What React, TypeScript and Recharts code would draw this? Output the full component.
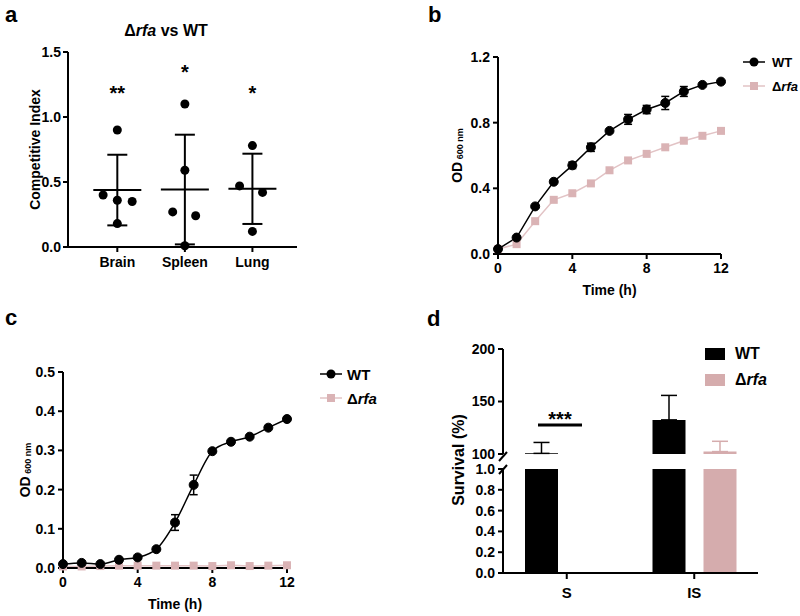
import React from 'react';
import {
  ScatterChart,
  Scatter,
  LineChart,
  Line,
  BarChart,
  Bar,
  XAxis,
  YAxis,
  ErrorBar,
  Legend
} from 'recharts';

const FONT = '"Liberation Sans", Arial, Helvetica, sans-serif';
const BLACK = '#000000';
const PINK_MARK = '#dab3b5';
const PINK_LINE = '#e2c3c5';
const PINK_BAR = '#d5acad';

// a: competitive index (Δrfa vs WT)
const ORGANS = ['Brain', 'Spleen', 'Lung'];
const BRAIN_CI = [0.9, 0.4, 0.36, 0.35, 0.18];
const BRAIN_JITTER = [0, -0.21, 0, 0.22, 0];
const SPLEEN_CI = [1.1, 0.59, 0.27, 0.24, 0.01];
const SPLEEN_JITTER = [0, 0, -0.18, 0.16, 0];
const LUNG_CI = [0.78, 0.47, 0.42, 0.12];
const LUNG_JITTER = [0, -0.19, 0.15, 0];
const CI_SIG = ['**', '*', '*'];
const CI_SIG_Y = [1.215, 1.375, 1.215];

// b: growth in rich medium
const TIME = [0, 1, 2, 3, 4, 5, 6, 7, 8, 9, 10, 11, 12];
const B_WT = [0.03, 0.1, 0.29, 0.44, 0.54, 0.65, 0.75, 0.82, 0.88, 0.92, 0.99, 1.03, 1.05];
const B_WT_SD = [0, 0, 0, 0, 0.02, 0.025, 0, 0.03, 0.025, 0.04, 0.03, 0, 0];
const B_RFA = [0.03, 0.06, 0.2, 0.33, 0.37, 0.43, 0.51, 0.57, 0.61, 0.65, 0.69, 0.72, 0.75];

// c: growth in serum
const C_WT = [0.01, 0.013, 0.01, 0.021, 0.027, 0.048, 0.116, 0.212, 0.298, 0.322, 0.335, 0.358, 0.38];
const C_WT_SD = [0, 0, 0, 0, 0, 0, 0.02, 0.025, 0, 0, 0, 0, 0];
const C_RFA = [0.004, 0.004, 0.005, 0.006, 0.006, 0.006, 0.006, 0.006, 0.005, 0.007, 0.005, 0.006, 0.007];

// d: survival
const SURV_GROUPS = ['S', 'IS'];
const SURV_WT = [100.6, 132.5];
const SURV_WT_ERR = [10.4, 23.3];
const SURV_RFA = [0.003, 102.3];
const SURV_RFA_ERR = [0, 9.8];

const ciPoints = [
  ...BRAIN_CI.map((y, i) => ({ x: 1 + BRAIN_JITTER[i], y })),
  ...SPLEEN_CI.map((y, i) => ({ x: 2 + SPLEEN_JITTER[i], y })),
  ...LUNG_CI.map((y, i) => ({ x: 3 + LUNG_JITTER[i], y }))
];

const stats = (vals: number[]) => {
  const m = vals.reduce((s, v) => s + v, 0) / vals.length;
  const sd = Math.sqrt(vals.reduce((s, v) => s + (v - m) * (v - m), 0) / (vals.length - 1));
  return { m, sd };
};

const ciStats = [BRAIN_CI, SPLEEN_CI, LUNG_CI].map((vals, i) => {
  const { m, sd } = stats(vals);
  return { x: i + 1, y: m, sd };
});

const ciSig = CI_SIG.map((label, i) => ({ x: i + 1, y: CI_SIG_Y[i], label }));

const growthB = TIME.map((t, i) => ({ t, wt: B_WT[i], wtSd: B_WT_SD[i], rfa: B_RFA[i] }));
const growthC = TIME.map((t, i) => ({ t, wt: C_WT[i], wtSd: C_WT_SD[i], rfa: C_RFA[i] }));

const survData = SURV_GROUPS.map((group, i) => ({
  group,
  wt: SURV_WT[i],
  wtErr: [0, SURV_WT_ERR[i]],
  rfa: SURV_RFA[i],
  rfaErr: [0, SURV_RFA_ERR[i]]
}));

const axisLine = { stroke: BLACK, strokeWidth: 2 };
const tickLine = { stroke: BLACK, strokeWidth: 2 };
const tickStyle = { fill: BLACK, fontSize: 14, fontWeight: 700, fontFamily: FONT };

const rotatedLabel = (x: number, children: React.ReactNode, fontSize = 14) => ({
  content: (props: any) => {
    const vb = props.viewBox || { y: 0, height: 0 };
    const cy = vb.y + vb.height / 2;
    return (
      <text
        x={x}
        y={cy}
        transform={`rotate(-90 ${x} ${cy})`}
        textAnchor="middle"
        dominantBaseline="central"
        fontFamily={FONT}
        fontWeight={700}
        fontSize={fontSize}
        fill={BLACK}
      >
        {children}
      </text>
    );
  }
});

const bottomLabel = (text: string) => ({
  content: (props: any) => {
    const vb = props.viewBox || { x: 0, y: 0, width: 0 };
    return (
      <text
        x={vb.x + vb.width / 2}
        y={vb.y + 41}
        textAnchor="middle"
        fontFamily={FONT}
        fontWeight={700}
        fontSize={14}
        fill={BLACK}
      >
        {text}
      </text>
    );
  }
});

const odLabel = (
  <>
    <tspan>OD</tspan>
    <tspan fontSize={9} dy={3}> 600 nm</tspan>
  </>
);

const rfaText = (
  <>
    Δ<i>rfa</i>
  </>
);

const squareDot = (p: any) => (
  <rect key={`sq-${p.index}`} x={p.cx - 4} y={p.cy - 4} width={8} height={8} fill={PINK_MARK} />
);

// legend with line + marker, used for b and c
const LineLegend = ({ fontSize, gap }: { fontSize: number; gap: number }) => (
  <div style={{ fontFamily: FONT, fontWeight: 700, fontSize, color: BLACK, whiteSpace: 'nowrap' }}>
    <div style={{ display: 'flex', alignItems: 'center', height: 24 }}>
      <svg width={22} height={12}>
        <line x1={0} y1={6} x2={22} y2={6} stroke={BLACK} strokeWidth={1.5} />
        <circle cx={11} cy={6} r={4.5} fill={BLACK} />
      </svg>
      <span style={{ marginLeft: gap }}>WT</span>
    </div>
    <div style={{ display: 'flex', alignItems: 'center', height: 24 }}>
      <svg width={22} height={12}>
        <line x1={0} y1={6} x2={22} y2={6} stroke={PINK_LINE} strokeWidth={1.5} />
        <rect x={7} y={2} width={8} height={8} fill={PINK_MARK} />
      </svg>
      <span style={{ marginLeft: gap }}>{rfaText}</span>
    </div>
  </div>
);

const BarLegend = () => (
  <div style={{ fontFamily: FONT, fontWeight: 700, fontSize: 16, color: BLACK }}>
    <div style={{ display: 'flex', alignItems: 'center', height: 26 }}>
      <div style={{ width: 20, height: 12, background: BLACK }} />
      <span style={{ marginLeft: 10 }}>WT</span>
    </div>
    <div style={{ display: 'flex', alignItems: 'center', height: 26 }}>
      <div style={{ width: 20, height: 12, background: PINK_BAR }} />
      <span style={{ marginLeft: 10 }}>{rfaText}</span>
    </div>
  </div>
);

const ChartA = () => (
  <ScatterChart width={310} height={290} margin={{ top: 52, right: 13, bottom: 13, left: 18 }}>
    <XAxis
      type="number"
      dataKey="x"
      domain={[0.27, 3.66]}
      ticks={[1, 2, 3]}
      interval={0}
      tickFormatter={(v: number) => ORGANS[Math.round(v) - 1]}
      allowDataOverflow
      height={30}
      axisLine={axisLine}
      tickLine={tickLine}
      tickSize={5}
      tickMargin={5}
      tick={tickStyle}
    />
    <YAxis
      type="number"
      dataKey="y"
      domain={[0, 1.5]}
      ticks={[0, 0.5, 1, 1.5]}
      interval={0}
      tickFormatter={(v: number) => v.toFixed(1)}
      width={50}
      axisLine={axisLine}
      tickLine={tickLine}
      tickSize={5}
      tickMargin={2}
      tick={tickStyle}
      label={rotatedLabel(35, 'Competitive Index')}
    />
    <Scatter
      data={ciPoints}
      isAnimationActive={false}
      shape={(p: any) => <circle cx={p.cx} cy={p.cy} r={4.5} fill={BLACK} />}
    />
    <Scatter
      data={ciStats}
      isAnimationActive={false}
      shape={(p: any) => (
        <line x1={p.cx - 24} x2={p.cx + 24} y1={p.cy} y2={p.cy} stroke={BLACK} strokeWidth={2} />
      )}
    >
      <ErrorBar dataKey="sd" direction="y" width={10} stroke={BLACK} strokeWidth={2} />
    </Scatter>
    <Scatter
      data={ciSig}
      isAnimationActive={false}
      shape={(p: any) => (
        <text
          x={p.cx}
          y={p.cy + 11}
          textAnchor="middle"
          fontFamily={FONT}
          fontWeight={700}
          fontSize={20}
          fill={BLACK}
        >
          {p.payload.label}
        </text>
      )}
    />
  </ScatterChart>
);

const ChartB = () => (
  <LineChart width={400} height={300} data={growthB} margin={{ top: 57, right: 79, bottom: 16, left: 58 }}>
    <XAxis
      type="number"
      dataKey="t"
      domain={[0, 12]}
      ticks={[0, 4, 8, 12]}
      interval={0}
      height={30}
      axisLine={axisLine}
      tickLine={tickLine}
      tickSize={5}
      tickMargin={4}
      tick={tickStyle}
      label={bottomLabel('Time (h)')}
    />
    <YAxis
      type="number"
      domain={[0, 1.2]}
      ticks={[0, 0.4, 0.8, 1.2]}
      interval={0}
      tickFormatter={(v: number) => v.toFixed(1)}
      width={40}
      axisLine={axisLine}
      tickLine={tickLine}
      tickSize={5}
      tickMargin={3}
      tick={tickStyle}
      label={rotatedLabel(57, odLabel)}
    />
    <Legend
      layout="vertical"
      align="center"
      verticalAlign="middle"
      wrapperStyle={{ left: 343, top: 50, width: 'auto' }}
      content={() => <LineLegend fontSize={13} gap={7} />}
    />
    <Line type="linear" dataKey="rfa" stroke={PINK_LINE} strokeWidth={1.5} dot={squareDot} isAnimationActive={false} />
    <Line
      type="linear"
      dataKey="wt"
      stroke={BLACK}
      strokeWidth={1.5}
      dot={{ r: 4.5, fill: BLACK, stroke: BLACK, strokeWidth: 1 }}
      isAnimationActive={false}
    >
      <ErrorBar dataKey="wtSd" direction="y" width={4} stroke={BLACK} strokeWidth={1.5} />
    </Line>
  </LineChart>
);

const ChartC = () => (
  <LineChart width={400} height={316} data={growthC} margin={{ top: 72, right: 113, bottom: 18, left: 23 }}>
    <XAxis
      type="number"
      dataKey="t"
      domain={[0, 12]}
      ticks={[0, 4, 8, 12]}
      interval={0}
      height={30}
      axisLine={axisLine}
      tickLine={tickLine}
      tickSize={5}
      tickMargin={4}
      tick={tickStyle}
      label={bottomLabel('Time (h)')}
    />
    <YAxis
      type="number"
      domain={[0, 0.5]}
      ticks={[0, 0.1, 0.2, 0.3, 0.4, 0.5]}
      interval={0}
      tickFormatter={(v: number) => v.toFixed(1)}
      width={40}
      axisLine={axisLine}
      tickLine={tickLine}
      tickSize={5}
      tickMargin={3}
      tick={tickStyle}
      label={rotatedLabel(25, odLabel)}
    />
    <Legend
      layout="vertical"
      align="center"
      verticalAlign="middle"
      wrapperStyle={{ left: 320, top: 62, width: 'auto' }}
      content={() => <LineLegend fontSize={15} gap={5} />}
    />
    <Line type="linear" dataKey="rfa" stroke={PINK_LINE} strokeWidth={1.5} dot={squareDot} isAnimationActive={false} />
    <Line
      type="monotone"
      dataKey="wt"
      stroke={BLACK}
      strokeWidth={1.5}
      dot={{ r: 4.5, fill: BLACK, stroke: BLACK, strokeWidth: 1 }}
      isAnimationActive={false}
    >
      <ErrorBar dataKey="wtSd" direction="y" width={4} stroke={BLACK} strokeWidth={1.5} />
    </Line>
  </LineChart>
);

// d is drawn as two stacked charts to get the broken y axis
const ChartDUpper = () => (
  <BarChart
    width={400}
    height={168}
    data={survData}
    margin={{ top: 49, right: 42, bottom: 14, left: 63 }}
    barGap={18}
    barSize={33}
  >
    <XAxis dataKey="group" hide />
    <YAxis
      type="number"
      domain={[100, 200]}
      ticks={[100, 150, 200]}
      interval={0}
      allowDataOverflow
      width={40}
      axisLine={axisLine}
      tickLine={tickLine}
      tickSize={5}
      tickMargin={3}
      tick={{ ...tickStyle, fontSize: 14 }}
    />
    <Legend
      layout="vertical"
      align="center"
      verticalAlign="middle"
      wrapperStyle={{ left: 305, top: 41, width: 'auto' }}
      content={() => <BarLegend />}
    />
    <Bar dataKey="wt" fill={BLACK} isAnimationActive={false}>
      <ErrorBar dataKey="wtErr" direction="y" width={8} stroke={BLACK} strokeWidth={1.5} />
    </Bar>
    <Bar dataKey="rfa" fill={PINK_BAR} isAnimationActive={false}>
      <ErrorBar dataKey="rfaErr" direction="y" width={8} stroke={PINK_BAR} strokeWidth={1.5} />
    </Bar>
  </BarChart>
);

const ChartDLower = () => (
  <BarChart
    width={400}
    height={150}
    data={survData}
    margin={{ top: 9, right: 42, bottom: 7, left: 63 }}
    barGap={18}
    barSize={33}
  >
    <XAxis
      dataKey="group"
      height={30}
      interval={0}
      axisLine={axisLine}
      tickLine={tickLine}
      tickSize={6}
      tickMargin={8}
      tick={{ ...tickStyle, fontSize: 15 }}
    />
    <YAxis
      type="number"
      domain={[0, 1]}
      ticks={[0, 0.2, 0.4, 0.6, 0.8, 1]}
      interval={0}
      tickFormatter={(v: number) => v.toFixed(1)}
      allowDataOverflow
      width={40}
      axisLine={axisLine}
      tickLine={tickLine}
      tickSize={5}
      tickMargin={3}
      tick={{ ...tickStyle, fontSize: 14 }}
    />
    <Bar dataKey="wt" fill={BLACK} isAnimationActive={false} />
    <Bar dataKey="rfa" fill={PINK_BAR} isAnimationActive={false} />
  </BarChart>
);

const Overlay = () => (
  <svg
    width={800}
    height={616}
    style={{ position: 'absolute', left: 0, top: 0, pointerEvents: 'none' }}
    fontFamily={FONT}
    fontWeight={700}
    fill={BLACK}
  >
    <text x={5} y={22} fontSize={22}>a</text>
    <text x={428} y={22} fontSize={22}>b</text>
    <text x={5} y={325} fontSize={22}>c</text>
    <text x={427} y={326} fontSize={22}>d</text>
    <text x={166} y={36} fontSize={16} textAnchor="middle">
      Δ<tspan fontStyle="italic">rfa</tspan> vs WT
    </text>
    <text
      x={458}
      y={460}
      fontSize={16}
      textAnchor="middle"
      dominantBaseline="central"
      transform="rotate(-90 458 460)"
    >
      Survival (%)
    </text>
    {/* significance bracket, S group */}
    <line x1={538} y1={425} x2={582} y2={425} stroke={BLACK} strokeWidth={3} />
    <text x={560} y={426} fontSize={20} textAnchor="middle">***</text>
    {/* axis break marks */}
    <line x1={499} y1={461} x2={507} y2={452} stroke={BLACK} strokeWidth={2} />
    <line x1={499} y1={474} x2={507} y2={465} stroke={BLACK} strokeWidth={2} />
  </svg>
);

export default function App() {
  return (
    <div style={{ position: 'absolute', left: 0, top: 0, width: 800, height: 616, background: '#fff', overflow: 'hidden' }}>
      <div style={{ position: 'absolute', left: 0, top: 0 }}>
        <ChartA />
      </div>
      <div style={{ position: 'absolute', left: 400, top: 0 }}>
        <ChartB />
      </div>
      <div style={{ position: 'absolute', left: 0, top: 300 }}>
        <ChartC />
      </div>
      <div style={{ position: 'absolute', left: 400, top: 460 }}>
        <ChartDLower />
      </div>
      <div style={{ position: 'absolute', left: 400, top: 300 }}>
        <ChartDUpper />
      </div>
      <Overlay />
    </div>
  );
}
